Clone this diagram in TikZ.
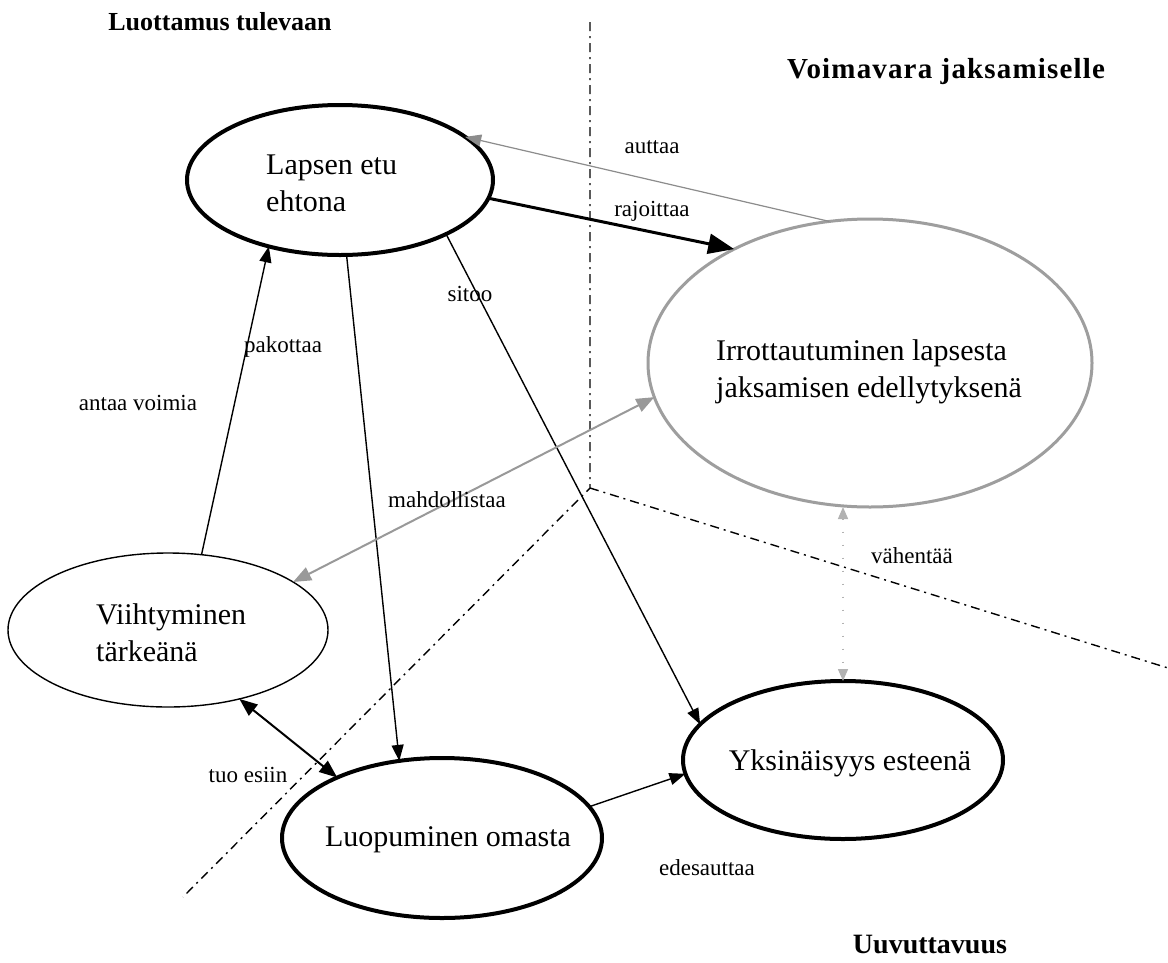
\documentclass[tikz,border=0pt]{standalone}
\usepackage{fontspec}
\setmainfont{Liberation Serif}
\usetikzlibrary{shapes.geometric,arrows.meta}
\begin{document}
\begin{tikzpicture}[x=1pt,y=-1pt,
  ell/.style={draw,ellipse,inner sep=0pt,outer sep=0pt},
  thickell/.style={ell,line width=4pt},
  thinell/.style={ell,line width=1.4pt},
  grayell/.style={ell,line width=3pt,draw=black!38},
  ntext/.style={font=\fontsize{30}{37}\selectfont,align=left,inner sep=0pt},
  lbl/.style={font=\fontsize{23}{27}\selectfont,inner sep=0pt},
  ttl/.style={font=\fontsize{26}{32}\selectfont\bfseries,inner sep=0pt},
  arr/.style={line width=1.4pt,-{Triangle[length=16pt,width=12pt]}},
  garr/.style={line width=1.2pt,draw=black!45,-{Triangle[length=16pt,width=12pt]}},
  dd/.style={line width=1.4pt,dash pattern=on 9pt off 5pt on 2pt off 5pt},
]
\useasboundingbox (0,0) rectangle (1168,962);
\fill[white] (0,0) rectangle (1168,962);

% titles
\node[ttl] (t1) at (220,22) {Luottamus tulevaan};
\node[ttl,font=\fontsize{29}{34}\selectfont\bfseries\addfontfeatures{LetterSpace=4}] (t2) at (946,72) {Voimavara jaksamiselle};
\node[ttl,font=\fontsize{28}{34}\selectfont\bfseries] (t3) at (930,944) {Uuvuttavuus};

% dash-dot dividers
\coordinate (vt) at (590,22);
\coordinate (jn) at (590,488);
\coordinate (ll) at (183,897);
\coordinate (rr) at (1168,668);
\draw[dd] (vt) -- (jn) -- (ll);
\draw[dd] (jn) -- (rr);

% ellipses
\node[thickell,minimum width=306pt,minimum height=150pt] (lap) at (340,180) {};
\node[ntext,anchor=west] (lapT) at (266,183) {Lapsen etu\\ehtona};
\node[grayell,minimum width=444pt,minimum height=288pt] (irr) at (870,363) {};
\node[ntext,anchor=west] (irrT) at (716,372) {Irrottautuminen lapsesta\\jaksamisen edellytyksenä};
\node[thinell,minimum width=320pt,minimum height=154pt] (vii) at (168,630) {};
\node[ntext,anchor=west] (viiT) at (96,633) {Viihtyminen\\tärkeänä};
\node[thickell,minimum width=320pt,minimum height=160pt] (luo) at (442,838) {};
\node[ntext] (luoT) at (448,840) {Luopuminen omasta};
\node[thickell,minimum width=320pt,minimum height=158pt] (yks) at (843,760) {};
\node[ntext] (yksT) at (850,763) {Yksinäisyys esteenä};

% connectors
\draw[garr] (irr.106) -- (lap.19);
\draw[line width=3pt,-{Triangle[length=26pt,width=20pt]}] (lap.-7) -- (irr.140);
\draw[arr] (lap.-27) -- (yks.166);
\draw[arr] (lap.-85) -- (luo.119);
\draw[arr] (vii.66) -- (lap.223);
\draw[line width=2pt,draw=black!40,{Triangle[length=18pt,width=14pt]}-{Triangle[length=18pt,width=14pt]}] (vii.21) -- (irr.189);
\draw[line width=2pt,{Triangle[length=18pt,width=14pt]}-{Triangle[length=18pt,width=14pt]}] (vii.-44) -- (luo.150);
\draw[arr] (luo.12) -- (yks.185);
\draw[line width=1.4pt,draw=black!30,dash pattern=on 1pt off 12pt,{Triangle[length=12pt,width=10pt]}-{Triangle[length=12pt,width=10pt]}] (yks.north |- irr.south) -- (yks.north);

% labels
\node[lbl] (l1) at (652,147) {auttaa};
\node[lbl] (l2) at (652,211) {rajoittaa};
\node[lbl] (l3) at (470,294) {sitoo};
\node[lbl] (l4) at (283,347) {pakottaa};
\node[lbl] (l5) at (138,403) {antaa voimia};
\node[lbl] (l6) at (447,500) {mahdollistaa};
\node[lbl] (l7) at (912,556) {vähentää};
\node[lbl] (l8) at (248,775) {tuo esiin};
\node[lbl] (l9) at (707,868) {edesauttaa};
\end{tikzpicture}
\end{document}
